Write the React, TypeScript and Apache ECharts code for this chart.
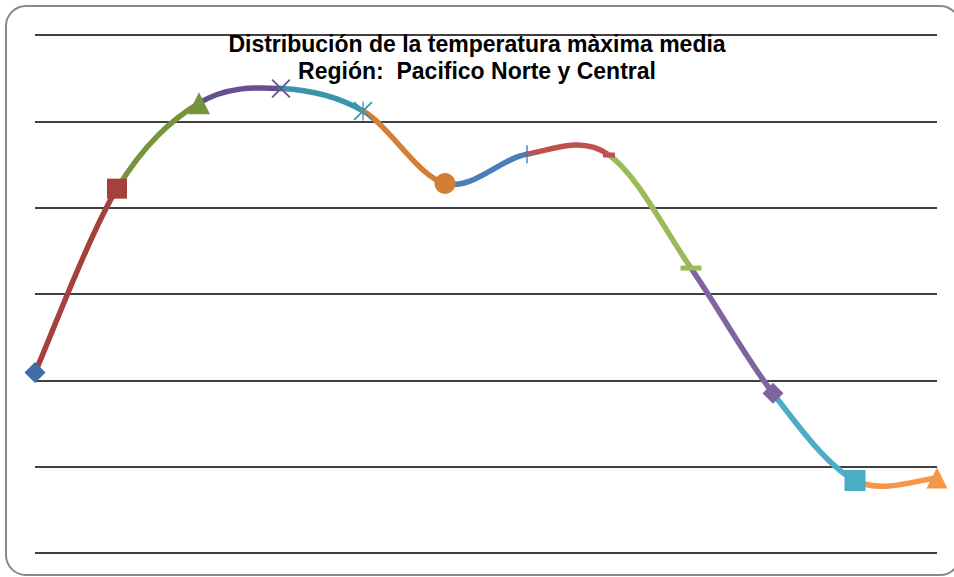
import React, { useEffect, useRef } from 'react';
import * as echarts from 'echarts';

const categories = ['Ene', 'Feb', 'Mar', 'Abr', 'May', 'Jun', 'Jul', 'Ago', 'Sep', 'Oct', 'Nov', 'Dic'];
const values = [2.09, 4.22, 5.21, 5.38, 5.12, 4.28, 4.62, 4.61, 3.3, 1.85, 0.84, 0.87];
const yMin = 0;
const yMax = 6;
const yInterval = 1;

const pointColors = [
  '#3F6DA6', '#A5403D', '#77933C', '#664F8F', '#3A95AA', '#D47E34',
  '#4A7EBB', '#C0504D', '#9BBB59', '#8064A2', '#4BACC6', '#F79646',
];

const X_PATH = 'path://M0,1.3L1.3,0L20,18.7L18.7,20Z M18.7,0L20,1.3L1.3,20L0,18.7Z';
const STAR_PATH = 'path://M0,1.3L1.3,0L20,18.7L18.7,20Z M18.7,0L20,1.3L1.3,20L0,18.7Z M9.3,0H10.7V20H9.3Z';
const PLUS_PATH = 'path://M0,9.2H20V10.8H0Z M9.2,0H10.8V20H9.2Z';

const markerSymbols = [
  'diamond', 'rect', 'triangle', X_PATH, STAR_PATH, 'circle',
  PLUS_PATH, 'rect', 'rect', 'diamond', 'rect', 'triangle',
];
const markerSizes: any[] = [21, 20, 22, 19, 19, 21, 18, [12, 5], [21, 5], 21, 21, 21];

export default function App() {
  const ref = useRef<HTMLDivElement>(null);
  useEffect(() => {
    if (!ref.current) return;
    const chart = echarts.init(ref.current, null, { renderer: 'svg' });
    const n = values.length;
    const option: any = {
      animation: false,
      backgroundColor: '#ffffff',
      title: {
        text: 'Distribución de la temperatura màxima media\nRegión:  Pacifico Norte y Central',
        left: 472,
        top: 25,
        textAlign: 'center',
        textStyle: {
          fontFamily: 'Liberation Sans, Arial, sans-serif',
          fontWeight: 'bold',
          fontSize: 23,
          lineHeight: 27,
          color: '#000000',
        },
      },
      graphic: [
        {
          type: 'rect',
          z: -10,
          shape: { x: 6, y: 6, width: 954, height: 569, r: 20 },
          style: { fill: 'none', stroke: '#898989', lineWidth: 2 },
        },
      ],
      grid: { left: 35, right: 17, top: 35, bottom: 24 },
      xAxis: {
        type: 'category',
        data: categories,
        boundaryGap: false,
        axisLine: { show: false },
        axisTick: { show: false },
        axisLabel: { show: false },
        splitLine: { show: false },
      },
      yAxis: {
        type: 'value',
        min: yMin,
        max: yMax,
        interval: yInterval,
        axisLine: { show: false },
        axisTick: { show: false },
        axisLabel: { show: false },
        splitLine: { show: true, lineStyle: { color: '#000000', width: 1.6 } },
      },
      series: [
        {
          type: 'custom',
          z: 2,
          data: values.map((v, i) => [i, v]),
          encode: { x: 0, y: 1 },
          renderItem: (params: any, api: any) => {
            const i = params.dataIndex;
            if (i === 0) return null;
            const P = (j: number) => {
              const k = Math.max(0, Math.min(n - 1, j));
              return api.coord([k, values[k]]);
            };
            const p0 = P(i - 2), p1 = P(i - 1), p2 = P(i), p3 = P(i + 1);
            const cpx1 = p1[0] + (p2[0] - p0[0]) / 6;
            const cpy1 = p1[1] + (p2[1] - p0[1]) / 6;
            const cpx2 = p2[0] - (p3[0] - p1[0]) / 6;
            const cpy2 = p2[1] - (p3[1] - p1[1]) / 6;
            return {
              type: 'bezierCurve',
              shape: { x1: p1[0], y1: p1[1], cpx1, cpy1, cpx2, cpy2, x2: p2[0], y2: p2[1] },
              style: { stroke: pointColors[i], lineWidth: 5.5, fill: 'none', lineCap: 'round' },
            };
          },
        },
        {
          type: 'scatter',
          z: 3,
          data: values.map((v, i) => ({
            value: [i, v],
            symbol: markerSymbols[i],
            symbolSize: markerSizes[i],
            itemStyle: { color: pointColors[i], opacity: 1 },
          })),
        },
      ],
    };
    chart.setOption(option);
    return () => chart.dispose();
  }, []);
  return (
    <div
      ref={ref}
      style={{ position: 'fixed', left: 0, top: 0, width: 954, height: 577, background: '#fff' }}
    />
  );
}
